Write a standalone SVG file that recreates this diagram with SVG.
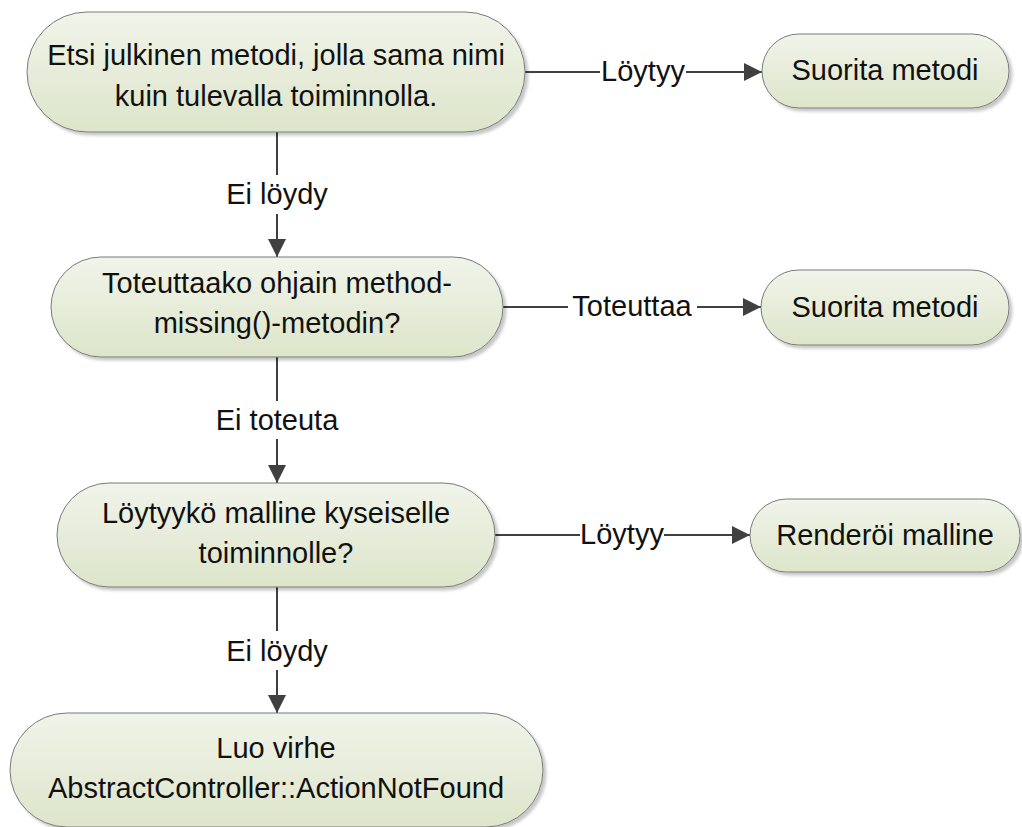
<svg xmlns="http://www.w3.org/2000/svg" width="1022" height="827" viewBox="0 0 1022 827">
  <defs>
    <linearGradient id="nodeFill" x1="0" y1="0" x2="0" y2="1">
      <stop offset="0" stop-color="#f1f4ea"/>
      <stop offset="1" stop-color="#dde5ca"/>
    </linearGradient>
    <filter id="shadow" x="-10%" y="-20%" width="120%" height="150%">
      <feDropShadow dx="3" dy="3" stdDeviation="1.5" flood-color="#000" flood-opacity="0.22"/>
    </filter>
    <marker id="arrow" markerUnits="userSpaceOnUse" markerWidth="18" markerHeight="18" refX="18" refY="9" orient="auto">
      <path d="M0,0 L18,9 L0,18 Z" fill="#404040"/>
    </marker>
  </defs>
  <style>
    .node rect { fill: url(#nodeFill); stroke: #7a7a7a; stroke-width: 1; filter: url(#shadow); }
    text { font-family: "Liberation Sans", Arial, sans-serif; font-size: 29px; fill: #111; text-anchor: middle; }
    .edge { stroke: #404040; stroke-width: 2; fill: none; }
    .arrow { marker-end: url(#arrow); }
    .lbl-bg { fill: #ffffff; }
  </style>

  <rect width="1022" height="827" fill="#ffffff"/>

  <!-- connectors -->
  <g id="connectors">
    <line class="edge" x1="525" y1="72" x2="600" y2="72"/>
    <line class="edge arrow" x1="686" y1="72" x2="762" y2="72"/>
    <text x="643" y="81">Löytyy</text>

    <line class="edge" x1="277" y1="132" x2="277" y2="175"/>
    <line class="edge arrow" x1="277" y1="214" x2="277" y2="257"/>
    <text x="277" y="204">Ei löydy</text>

    <line class="edge" x1="503" y1="307" x2="568" y2="307"/>
    <line class="edge arrow" x1="697" y1="307" x2="761" y2="307"/>
    <text x="632" y="316">Toteuttaa</text>

    <line class="edge" x1="277" y1="357" x2="277" y2="401"/>
    <line class="edge arrow" x1="277" y1="439" x2="277" y2="483"/>
    <text x="277" y="430">Ei toteuta</text>

    <line class="edge" x1="495" y1="535" x2="580" y2="535"/>
    <line class="edge arrow" x1="664" y1="535" x2="750" y2="535"/>
    <text x="622" y="544">Löytyy</text>

    <line class="edge" x1="277" y1="587" x2="277" y2="631"/>
    <line class="edge arrow" x1="277" y1="670" x2="277" y2="713"/>
    <text x="277" y="661">Ei löydy</text>
  </g>

  <!-- nodes -->
  <g id="find-method" class="node">
    <rect x="27" y="12" width="498" height="120" rx="60" ry="60"/>
    <text x="276" y="65">Etsi julkinen metodi, jolla sama nimi</text>
    <text x="276" y="106">kuin tulevalla toiminnolla.</text>
  </g>

  <g id="run-method-1" class="node">
    <rect x="762" y="34" width="247" height="74" rx="37" ry="37"/>
    <text x="885" y="80">Suorita metodi</text>
  </g>

  <g id="method-missing" class="node">
    <rect x="51" y="257" width="452" height="100" rx="50" ry="50"/>
    <text x="277" y="293">Toteuttaako ohjain method-</text>
    <text x="277" y="333">missing()-metodin?</text>
  </g>

  <g id="run-method-2" class="node">
    <rect x="761" y="270" width="248" height="75" rx="37.5" ry="37.5"/>
    <text x="885" y="317">Suorita metodi</text>
  </g>

  <g id="find-template" class="node">
    <rect x="57" y="483" width="438" height="104" rx="52" ry="52"/>
    <text x="276" y="523">Löytyykö malline kyseiselle</text>
    <text x="276" y="563">toiminnolle?</text>
  </g>

  <g id="render-template" class="node">
    <rect x="750" y="499" width="270" height="73" rx="36.5" ry="36.5"/>
    <text x="885" y="545">Renderöi malline</text>
  </g>

  <g id="raise-error" class="node">
    <rect x="10" y="713" width="533" height="114" rx="57" ry="57"/>
    <text x="276" y="758">Luo virhe</text>
    <text x="276" y="798">AbstractController::ActionNotFound</text>
  </g>
</svg>
